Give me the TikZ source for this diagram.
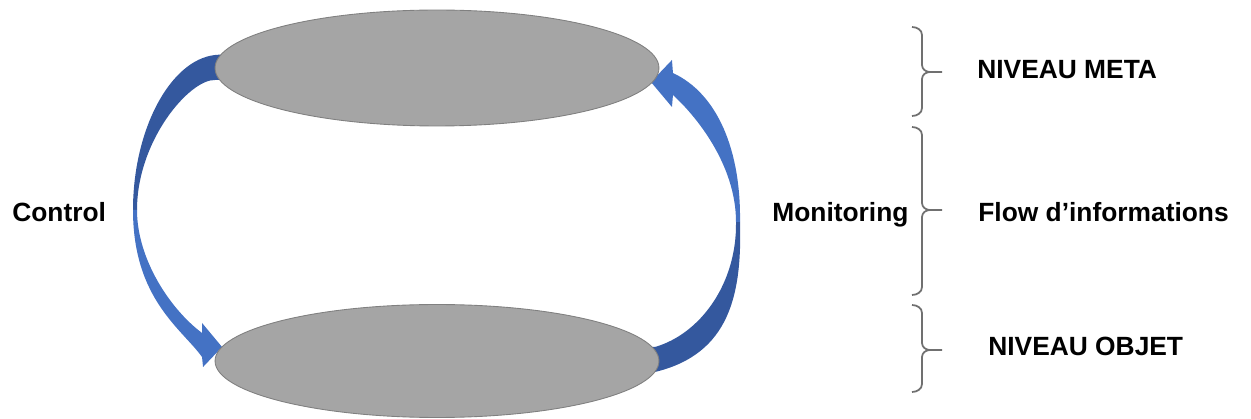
\documentclass[tikz,border=0pt]{standalone}
\usepackage{fontspec}
\setmainfont{Liberation Sans}
\usepackage{tikz}
\usetikzlibrary{shapes.geometric,backgrounds,calc}

\definecolor{arrowblue}{RGB}{68,114,196}
\definecolor{arrowdark}{RGB}{52,88,158}
\definecolor{levelgray}{RGB}{165,165,165}
\definecolor{leveledge}{RGB}{128,128,128}
\definecolor{bracegray}{RGB}{112,112,112}

\begin{document}
\begin{tikzpicture}[x=0.02cm,y=0.02cm,
  level/.style={ellipse,fill=levelgray,draw=leveledge,line width=0.5pt,inner sep=0pt,outer sep=0pt,minimum width=8.88cm},
  lbl/.style={font=\fontsize{15}{18}\selectfont\bfseries,inner sep=0pt,anchor=base west},
  rbrace/.style={draw=bracegray,line width=1pt}]

\useasboundingbox (0,0) rectangle (1251,419);

\node[level,minimum height=2.32cm] (meta) at (437,351) {};% niveau meta
\node[level,minimum height=2.26cm] (objet) at (437,58) {};% niveau objet

\coordinate (ctl) at (133,209);
\coordinate (mon) at (740,197);

\begin{scope}[on background layer]
% control arrow
\fill[arrowdark] ([shift={(13,14)}]meta.west) -- ([shift={(0,13)}]meta.west) .. controls (170,359) and (133,289) .. (ctl) -- ([shift={(4,0)}]ctl) .. controls (137,279) and (190,340) .. ([shift={(0,-12)}]meta.west) -- ([shift={(13,-12)}]meta.west) -- cycle;
\fill[arrowblue] (ctl) .. controls (133,120) and (182,90) .. ([shift={(-13,4)}]objet.west) -- ([shift={(-12,-6)}]objet.west) -- ([shift={(7,14)}]objet.west) -- ([shift={(-13,38)}]objet.west) -- ([shift={(-13,28)}]objet.west) .. controls (170,110) and (137,160) .. ([shift={(4,0)}]ctl) -- cycle;

% monitoring arrow
\fill[arrowdark] (mon) .. controls (742,125) and (730,65) .. ([shift={(-4,-11)}]objet.east) -- ([shift={(-14,-11)}]objet.east) -- ([shift={(-14,14)}]objet.east) -- ([shift={(-4,14)}]objet.east) .. controls (700,85) and (737,135) .. ([shift={(-4,0)}]mon) -- cycle;
\fill[arrowblue] (mon) .. controls (741,268) and (718,325) .. ([shift={(14,-5)}]meta.east) -- ([shift={(13,8)}]meta.east) -- ([shift={(-8,-14)}]meta.east) -- ([shift={(13,-39)}]meta.east) -- ([shift={(14,-27)}]meta.east) .. controls (695,304) and (736,255) .. ([shift={(-4,0)}]mon) -- cycle;
\end{scope}

% braces
\draw[rbrace] (912,392) to[out=0,in=90] (922,384) -- (922,354) to[out=-90,in=180] (930,347) -- (942,347) (930,347) to[out=180,in=90] (922,340) -- (922,311) to[out=-90,in=0] (912,303);% top
\draw[rbrace] (912,292) to[out=0,in=90] (922,284) -- (922,216) to[out=-90,in=180] (930,209) -- (942,209) (930,209) to[out=180,in=90] (922,202) -- (922,132) to[out=-90,in=0] (912,124);% middle
\draw[rbrace] (912,114) to[out=0,in=90] (922,106) -- (922,76) to[out=-90,in=180] (930,69) -- (942,69) (930,69) to[out=180,in=90] (922,62) -- (922,35) to[out=-90,in=0] (912,27);% bottom

\node[lbl] (control) at (12,197) {Control};
\node[lbl] (monitoring) at (772,197) {Monitoring};
\node[lbl] (nmeta) at (977,340) {NIVEAU META};
\node[lbl] (flow) at (978,197) {Flow d’informations};
\node[lbl] (nobjet) at (988,63) {NIVEAU OBJET};

\end{tikzpicture}
\end{document}
